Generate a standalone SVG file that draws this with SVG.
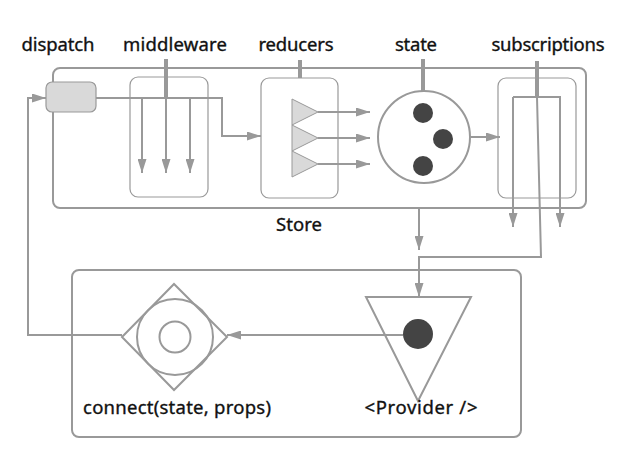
<svg xmlns="http://www.w3.org/2000/svg" width="620" height="452" viewBox="0 0 620 452">
<style>
.lbl{font-family:"Noto Sans","Liberation Sans",sans-serif;font-size:18.5px;fill:#111;stroke:#111;stroke-width:0.35;}
.box{fill:none;stroke:#999;stroke-width:2;}
.thin{fill:none;stroke:#999;stroke-width:1.2;}
.con{fill:none;stroke:#999;stroke-width:2;}
.tick{fill:none;stroke:#999;stroke-width:4;}
.dot{fill:#444;}
</style>
<defs>
<marker id="ah" markerUnits="userSpaceOnUse" markerWidth="14" markerHeight="9" refX="14" refY="4.5" orient="auto">
<path d="M0,0 L14,4.5 L0,9 z" fill="#999"/>
</marker>
</defs>
<rect width="620" height="452" fill="#fff"/>
<g id="store">
<rect class="box" x="53" y="68" width="533" height="140" rx="7"/>
<text class="lbl" x="299" y="231" text-anchor="middle" textLength="46">Store</text>
</g>
<g id="dispatch">
<rect x="46" y="82" width="50" height="30" rx="6" fill="#d9d9d9" stroke="#999" stroke-width="1.2"/>
<text class="lbl" x="58" y="51" text-anchor="middle" textLength="73">dispatch</text>
</g>
<g id="middleware">
<rect class="thin" x="130" y="77" width="78" height="120" rx="8"/>
<line class="tick" x1="166" y1="59" x2="166" y2="98"/>
<text class="lbl" x="175" y="51" text-anchor="middle" textLength="104">middleware</text>
</g>
<g id="reducers">
<rect class="thin" x="261" y="78" width="77" height="120" rx="8"/>
<line class="tick" x1="300" y1="60" x2="300" y2="78"/>
<polygon points="292,99 318,112 292,125" fill="#d9d9d9" stroke="#999" stroke-width="1"/>
<polygon points="292,125 318,138 292,151" fill="#d9d9d9" stroke="#999" stroke-width="1"/>
<polygon points="292,151 318,164 292,177" fill="#d9d9d9" stroke="#999" stroke-width="1"/>
<text class="lbl" x="296" y="51" text-anchor="middle" textLength="75">reducers</text>
</g>
<g id="state">
<circle cx="424" cy="137" r="46" fill="none" stroke="#999" stroke-width="2"/>
<line class="tick" x1="423" y1="59" x2="423" y2="91"/>
<circle class="dot" cx="423" cy="113" r="10"/>
<circle class="dot" cx="443" cy="139" r="10"/>
<circle class="dot" cx="423" cy="166" r="10"/>
<text class="lbl" x="416" y="51" text-anchor="middle" textLength="42">state</text>
</g>
<g id="subscriptions">
<rect class="thin" x="498" y="78" width="78" height="120" rx="8"/>
<line class="tick" x1="537" y1="61" x2="537" y2="97"/>
<text class="lbl" x="548" y="51" text-anchor="middle" textLength="113">subscriptions</text>
</g>
<g id="app">
<rect class="box" x="72" y="270" width="449" height="167" rx="7"/>
</g>
<g id="provider">
<polygon points="366,297 471,297 418,401" fill="none" stroke="#999" stroke-width="2"/>
<circle class="dot" cx="418" cy="334" r="15"/>
<text class="lbl" x="421" y="414" text-anchor="middle" textLength="113">&lt;Provider /&gt;</text>
</g>
<g id="connect">
<polygon points="122,337 174,284 227,337 174,390" fill="none" stroke="#999" stroke-width="2"/>
<circle cx="175" cy="337" r="38" fill="none" stroke="#999" stroke-width="2"/>
<circle cx="175" cy="337" r="15.5" fill="none" stroke="#999" stroke-width="2"/>
<text class="lbl" x="177" y="414" text-anchor="middle" textLength="188">connect(state, props)</text>
</g>
<g id="connectors">
<polyline class="con" points="96,98 222,98 222,136 261,136" marker-end="url(#ah)"/>
<line class="con" x1="142" y1="98" x2="142" y2="173" marker-end="url(#ah)"/>
<line class="con" x1="166" y1="98" x2="166" y2="173" marker-end="url(#ah)"/>
<line class="con" x1="190" y1="98" x2="190" y2="173" marker-end="url(#ah)"/>
<line class="con" x1="318" y1="112" x2="370" y2="112" marker-end="url(#ah)"/>
<line class="con" x1="318" y1="138" x2="370" y2="138" marker-end="url(#ah)"/>
<line class="con" x1="318" y1="164" x2="370" y2="164" marker-end="url(#ah)"/>
<line class="con" x1="470" y1="137" x2="500" y2="137" marker-end="url(#ah)"/>
<polyline class="con" points="513,97 560,97 560,227" marker-end="url(#ah)"/>
<line class="con" x1="513" y1="97" x2="513" y2="227" marker-end="url(#ah)"/>
<polyline class="con" points="537,97 541,257 419,257 419,297" marker-end="url(#ah)"/>
<line class="con" x1="419" y1="208" x2="419" y2="250" marker-end="url(#ah)"/>
<line class="con" x1="403" y1="335" x2="227" y2="335" marker-end="url(#ah)"/>
<polyline class="con" points="122,335 28,335 28,98 46,98" marker-end="url(#ah)"/>
</g>
</svg>
